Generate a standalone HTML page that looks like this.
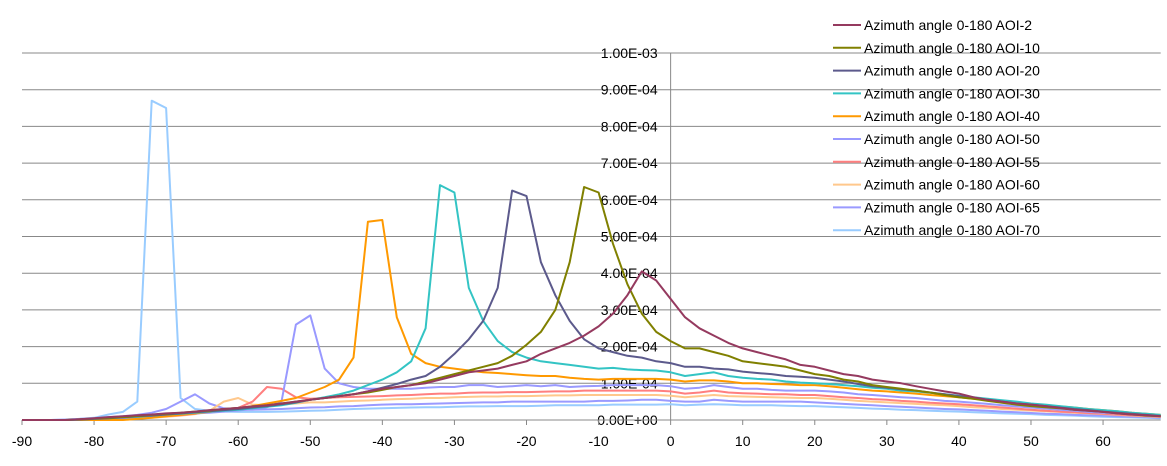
<!DOCTYPE html>
<html><head><meta charset="utf-8"><style>
html,body{margin:0;padding:0;background:#fff}
svg{display:block}
text{font-family:"Liberation Sans","DejaVu Sans",sans-serif;fill:#000}
</style></head><body>
<svg id="chart" width="1167" height="466" viewBox="0 0 1167 466" xmlns="http://www.w3.org/2000/svg">
<g id="grid"></g>
<g id="axes"></g>
<g id="series"></g>
<g id="legend"></g>
</svg>
<script>
const xValues = [-90,-88,-86,-84,-82,-80,-78,-76,-74,-72,-70,-68,-66,-64,-62,-60,-58,-56,-54,-52,-50,-48,-46,-44,-42,-40,-38,-36,-34,-32,-30,-28,-26,-24,-22,-20,-18,-16,-14,-12,-10,-8,-6,-4,-2,0,2,4,6,8,10,12,14,16,18,20,22,24,26,28,30,32,34,36,38,40,42,44,46,48,50,52,54,56,58,60,62,64,66,68];
const seriesNames = ["Azimuth angle 0-180 AOI-2","Azimuth angle 0-180 AOI-10","Azimuth angle 0-180 AOI-20","Azimuth angle 0-180 AOI-30","Azimuth angle 0-180 AOI-40","Azimuth angle 0-180 AOI-50","Azimuth angle 0-180 AOI-55","Azimuth angle 0-180 AOI-60","Azimuth angle 0-180 AOI-65","Azimuth angle 0-180 AOI-70"];
const seriesColors = ["#953a5f","#808000","#5c5a8c","#33c4c4","#ff9900","#9999ff","#ff7f7f","#ffc88c","#9a9aff","#99ccff"];
// values in units of 1e-4
const aoi2 = [0,0,0,0,0.02,0.05, 0.08,0.1,0.13,0.15,0.18,0.2,0.23,0.27,0.3, 0.33,0.37,0.4,0.45,0.5,0.55,0.6,0.65,0.7,0.78, 0.85,0.9,0.95,1.0,1.1,1.2,1.3,1.35,1.4,1.5, 1.6,1.8,1.95,2.1,2.3,2.55,2.9,3.4,4.05,3.8, 3.3,2.8,2.5,2.3,2.1,1.95,1.85,1.75,1.65,1.5, 1.45,1.35,1.25,1.2,1.1,1.05,1.0,0.92,0.85,0.78, 0.72,0.62,0.55,0.5,0.45,0.42,0.38,0.33,0.28,0.25, 0.22,0.18,0.15,0.13,0.1];
const aoi10 = [0,0,0,0,0.02,0.04, 0.06,0.08,0.11,0.14,0.17,0.2,0.23,0.26,0.3, 0.33,0.37,0.4,0.45,0.5,0.55,0.6,0.65,0.7,0.75, 0.82,0.9,0.95,1.05,1.15,1.25,1.35,1.45,1.55,1.75, 2.05,2.4,3.0,4.3,6.35,6.2,4.8,3.7,2.9,2.4, 2.15,1.95,1.95,1.85,1.75,1.6,1.55,1.5,1.45,1.35, 1.25,1.2,1.1,1.05,0.95,0.9,0.85,0.8,0.75,0.68, 0.62,0.58,0.52,0.47,0.42,0.38,0.35,0.32,0.28,0.25, 0.22,0.18,0.15,0.12,0.1];
const aoi20 = [0,0,0,0,0.01,0.03, 0.05,0.07,0.1,0.12,0.15,0.18,0.21,0.24,0.27, 0.3,0.34,0.38,0.43,0.48,0.55,0.6,0.65,0.7,0.78, 0.88,0.98,1.1,1.2,1.45,1.8,2.2,2.7,3.6,6.25, 6.1,4.3,3.4,2.7,2.2,1.95,1.85,1.75,1.7,1.6, 1.55,1.45,1.45,1.4,1.38,1.32,1.28,1.25,1.2,1.18, 1.15,1.1,1.05,0.98,0.92,0.88,0.84,0.8,0.75,0.7, 0.65,0.6,0.55,0.5,0.45,0.42,0.38,0.34,0.3,0.27, 0.23,0.2,0.17,0.14,0.11];
const aoi30 = [0,0,0,0,0.01,0.03, 0.05,0.07,0.09,0.12,0.15,0.17,0.2,0.23,0.25, 0.28,0.32,0.36,0.4,0.47,0.55,0.62,0.7,0.8,0.95, 1.1,1.3,1.6,2.5,6.4,6.2,3.6,2.7,2.15,1.85, 1.7,1.6,1.55,1.5,1.45,1.4,1.42,1.38,1.36,1.35, 1.3,1.2,1.25,1.3,1.2,1.15,1.12,1.1,1.05,1.02, 1.0,0.98,0.95,0.92,0.88,0.85,0.8,0.78,0.74,0.7, 0.66,0.62,0.58,0.54,0.5,0.45,0.42,0.38,0.34,0.3, 0.27,0.24,0.2,0.17,0.14];
const aoi40 = [0,0,0,0,0,0, 0,0,0.03,0.06,0.1,0.14,0.18,0.22,0.27, 0.32,0.38,0.45,0.52,0.6,0.75,0.9,1.1,1.7,5.4, 5.45,2.8,1.8,1.55,1.45,1.4,1.35,1.3,1.28,1.25, 1.22,1.2,1.2,1.15,1.12,1.1,1.12,1.12,1.12,1.12, 1.1,1.05,1.08,1.08,1.05,1.0,1.0,0.98,0.97,0.95, 0.95,0.92,0.88,0.84,0.8,0.78,0.75,0.72,0.68,0.65, 0.62,0.58,0.55,0.5,0.46,0.43,0.4,0.37,0.34,0.3, 0.27,0.24,0.2,0.17,0.14];
const aoi50 = [0,0,0,0,0,0, 0.02,0.04,0.06,0.09,0.12,0.15,0.18,0.2,0.23, 0.26,0.3,0.35,0.5,2.6,2.85,1.4,1.0,0.9,0.85, 0.85,0.85,0.85,0.88,0.9,0.9,0.95,0.95,0.9,0.92, 0.95,0.92,0.95,0.9,0.92,0.93,0.95,0.95,0.95,0.95, 0.92,0.85,0.88,0.95,0.9,0.85,0.85,0.82,0.8,0.8, 0.8,0.78,0.75,0.7,0.68,0.65,0.62,0.6,0.56,0.52, 0.5,0.47,0.44,0.4,0.37,0.34,0.31,0.28,0.25,0.22, 0.2,0.18,0.15,0.12,0.1];
const aoi55 = [0,0,0,0,0,0, 0.01,0.03,0.05,0.08,0.1,0.13,0.17,0.22,0.27, 0.33,0.5,0.9,0.85,0.62,0.58,0.6,0.62,0.63,0.64, 0.65,0.67,0.68,0.7,0.72,0.72,0.74,0.75,0.75,0.76, 0.76,0.77,0.78,0.78,0.8,0.8,0.8,0.8,0.8,0.8, 0.78,0.72,0.75,0.8,0.75,0.73,0.72,0.7,0.7,0.68, 0.68,0.65,0.62,0.6,0.57,0.55,0.52,0.5,0.47,0.45, 0.43,0.4,0.37,0.34,0.31,0.28,0.25,0.23,0.21,0.19, 0.17,0.15,0.13,0.11,0.09];
const aoi60 = [0,0,0,0,0,0, 0,0.02,0.04,0.06,0.09,0.12,0.16,0.25,0.5, 0.6,0.42,0.4,0.42,0.45,0.48,0.48,0.5,0.52,0.53, 0.55,0.57,0.58,0.6,0.6,0.62,0.63,0.64,0.64,0.65, 0.65,0.66,0.67,0.67,0.68,0.68,0.68,0.68,0.68,0.68, 0.66,0.62,0.65,0.68,0.65,0.64,0.63,0.62,0.61,0.6, 0.6,0.58,0.55,0.52,0.5,0.48,0.46,0.44,0.42,0.4, 0.38,0.35,0.33,0.3,0.28,0.26,0.24,0.22,0.2,0.18, 0.16,0.14,0.12,0.1,0.08];
const aoi65 = [0,0,0,0.01,0.03,0.05, 0.08,0.1,0.14,0.2,0.3,0.5,0.7,0.45,0.32, 0.28,0.28,0.29,0.3,0.32,0.34,0.35,0.37,0.38,0.4, 0.42,0.43,0.43,0.44,0.45,0.46,0.47,0.48,0.48,0.5, 0.5,0.5,0.5,0.5,0.5,0.52,0.52,0.53,0.55,0.55, 0.52,0.5,0.5,0.55,0.52,0.5,0.5,0.5,0.5,0.5, 0.48,0.46,0.44,0.42,0.4,0.38,0.36,0.34,0.32,0.3, 0.29,0.27,0.25,0.23,0.21,0.19,0.17,0.16,0.14,0.13, 0.12,0.1,0.09,0.08,0.06];
const aoi70 = [0,0,0,0.01,0.03,0.06, 0.15,0.22,0.5,8.7,8.5,0.6,0.3,0.25,0.23, 0.22,0.22,0.22,0.23,0.24,0.25,0.26,0.28,0.3,0.31, 0.32,0.33,0.34,0.35,0.35,0.36,0.37,0.37,0.38,0.38, 0.38,0.39,0.4,0.4,0.4,0.4,0.42,0.42,0.42,0.42, 0.43,0.4,0.42,0.43,0.42,0.4,0.4,0.4,0.39,0.38, 0.38,0.36,0.35,0.33,0.31,0.3,0.28,0.27,0.25,0.24, 0.23,0.21,0.2,0.18,0.17,0.16,0.14,0.13,0.12,0.1, 0.09,0.08,0.07,0.06,0.05];
const xTicks = [-90,-80,-70,-60,-50,-40,-30,-20,-10,0,10,20,30,40,50,60];
const yTicks = [0,1,2,3,4,5,6,7,8,9,10];
const yTickLabels = ["0.00E+00","1.00E-04","2.00E-04","3.00E-04","4.00E-04","5.00E-04","6.00E-04","7.00E-04","8.00E-04","9.00E-04","1.00E-03"];

const NS = "http://www.w3.org/2000/svg";
const X0 = 22, XPER = 7.207, XMIN = -90, XMAX = 68;
const Y0 = 420, YPER = 36.7;
function sx(v){ return X0 + (v - XMIN) * XPER; }
function sy(v){ return Y0 - v * YPER; }
function mk(tag, attrs, parent){ const e = document.createElementNS(NS, tag); for (const k in attrs) e.setAttribute(k, attrs[k]); parent.appendChild(e); return e; }

const grid = document.getElementById('grid');
const axes = document.getElementById('axes');
const ser = document.getElementById('series');
const leg = document.getElementById('legend');

yTicks.forEach((t, i) => {
  if (t > 0) {
    const l = mk('line', {x1: sx(XMIN), x2: sx(XMAX), y1: sy(t), y2: sy(t), stroke: '#888', 'stroke-width': 1}, grid);
    
    
  }
  const tx = mk('text', {x: sx(0) - 13, y: sy(t) + 5, 'text-anchor': 'end', 'font-size': 14}, axes);
  tx.textContent = yTickLabels[i];
  
  
});
const yAxis = mk('line', {x1: sx(0), x2: sx(0), y1: sy(10), y2: Y0, stroke: '#888', 'stroke-width': 1}, axes);


const xAxis = mk('line', {x1: sx(XMIN), x2: sx(XMAX), y1: Y0, y2: Y0, stroke: '#888', 'stroke-width': 1}, axes);


xTicks.forEach(t => {
  const tk = mk('line', {x1: sx(t), x2: sx(t), y1: Y0, y2: Y0 + 5, stroke: '#888', 'stroke-width': 1}, axes);
  
  
  const tx = mk('text', {x: sx(t), y: Y0 + 26, 'text-anchor': 'middle', 'font-size': 14}, axes);
  tx.textContent = String(t);
  
  
});

const allSeries = [aoi2, aoi10, aoi20, aoi30, aoi40, aoi50, aoi55, aoi60, aoi65, aoi70];
for (let s = allSeries.length - 1; s >= 0; s--) {
  const vals = allSeries[s];
  const d = vals.map((v, i) => (i ? 'L' : 'M') + sx(xValues[i]).toFixed(1) + ',' + sy(v).toFixed(1)).join(' ');
  const p = mk('path', {d: d, fill: 'none', stroke: seriesColors[s], 'stroke-width': 2, 'stroke-linejoin': 'round'}, ser);
  
  
}

seriesNames.forEach((n, i) => {
  const y = 25 + i * 22.8;
  const g = mk('g', {}, leg);
  
  
  mk('line', {x1: 833, x2: 861, y1: y, y2: y, stroke: seriesColors[i], 'stroke-width': 2}, g);
  const t = mk('text', {x: 864, y: y + 5, 'font-size': 14}, g);
  t.textContent = n;
});
</script>
</body></html>
